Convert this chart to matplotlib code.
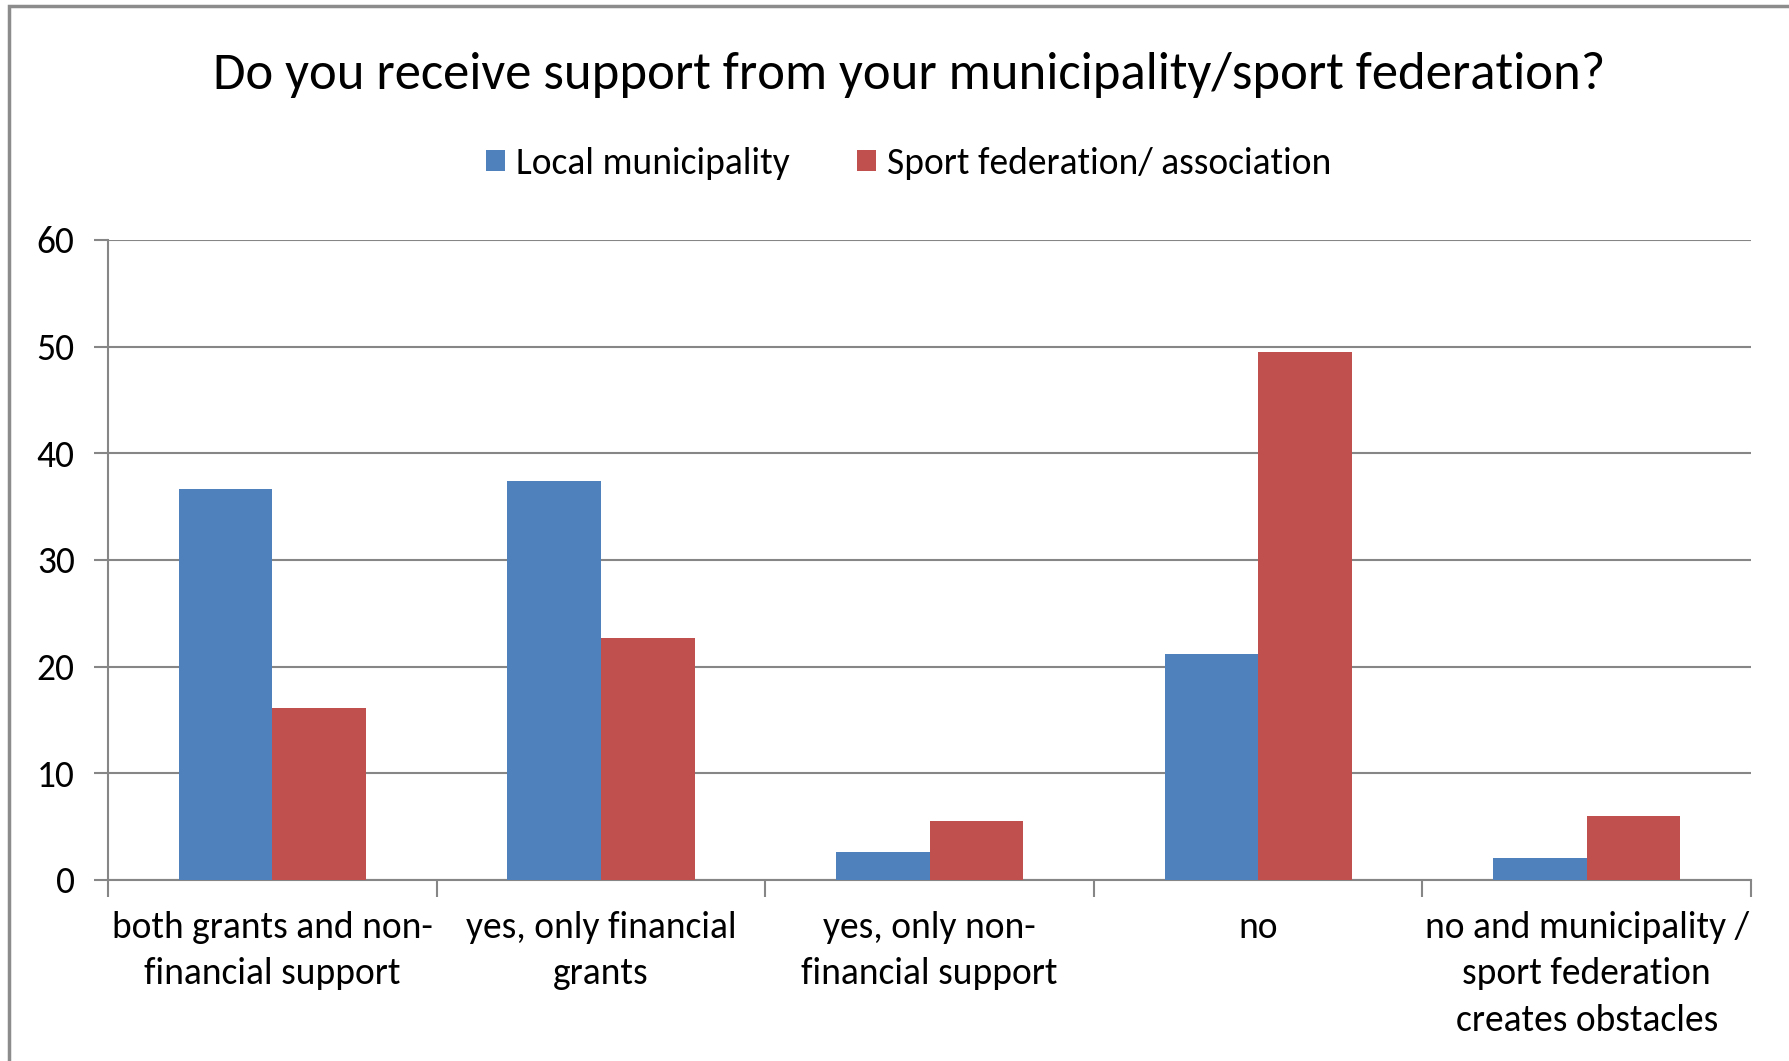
import numpy as np
import matplotlib.pyplot as plt
from matplotlib.patches import Rectangle

# Dữ liệu
categories = ["both grants and non-\nfinancial support",
              "yes, only financial\ngrants",
              "yes, only non-\nfinancial support",
              "no",
              "no and municipality /\nsport federation\ncreates obstacles"]
local_municipality = [36.7, 37.4, 2.6, 21.2, 2.1]
sport_federation = [16.1, 22.7, 5.5, 49.5, 6.0]
series_names = ["Local municipality", "Sport federation/ association"]
y_ticks = [0, 10, 20, 30, 40, 50, 60]

BLUE = "#4F81BD"
RED = "#C0504D"
GRID = "#868686"

plt.rcParams['font.family'] = ['Carlito', 'Lato', 'DejaVu Sans']

fig = plt.figure(figsize=(17.89, 10.61), dpi=100)
ax = fig.add_axes([0.0604, 0.1706, 0.9184, 0.6032])

x = np.arange(len(categories))
w = 0.285
ax.bar(x - w / 2, local_municipality, w, color=BLUE, label=series_names[0], zorder=3)
ax.bar(x + w / 2, sport_federation, w, color=RED, label=series_names[1], zorder=3)

ax.set_xlim(-0.5, len(categories) - 0.5)
ax.set_ylim(0, 60)
ax.set_yticks(y_ticks)
ax.yaxis.grid(True, color=GRID, linewidth=1.5, zorder=0)

# Nhãn trục x ở giữa, vạch chia ở ranh giới giữa các nhóm
ax.set_xticks(x)
ax.set_xticklabels(categories, fontsize=27, linespacing=1.5)
ax.set_xticks(np.arange(-0.5, len(categories)), minor=True)
ax.tick_params(axis='x', which='major', length=0, pad=22)
ax.tick_params(axis='x', which='minor', length=12, width=1.5, color=GRID)
ax.tick_params(axis='y', length=10, width=1.5, color=GRID, labelsize=27, pad=14)

for s in ['top', 'right']:
    ax.spines[s].set_visible(False)
for s in ['left', 'bottom']:
    ax.spines[s].set_color(GRID)
    ax.spines[s].set_linewidth(1.5)

fig.text(0.508, 0.929, "Do you receive support from your municipality/sport federation?",
         ha='center', va='center', fontsize=38)

fig.legend(loc='center', bbox_to_anchor=(0.508, 0.846), ncol=2, frameon=False,
           fontsize=27, handlelength=0.5, handleheight=0.5, handletextpad=0.3,
           columnspacing=1.8)

# Khung viền của biểu đồ
fig.patches.append(Rectangle((0.005, -0.1), 1.2, 1.1 - 6 / 1061, transform=fig.transFigure,
                             fill=False, edgecolor="#8c8c8c", linewidth=2.5))

fig.savefig("out.png", dpi=100)
